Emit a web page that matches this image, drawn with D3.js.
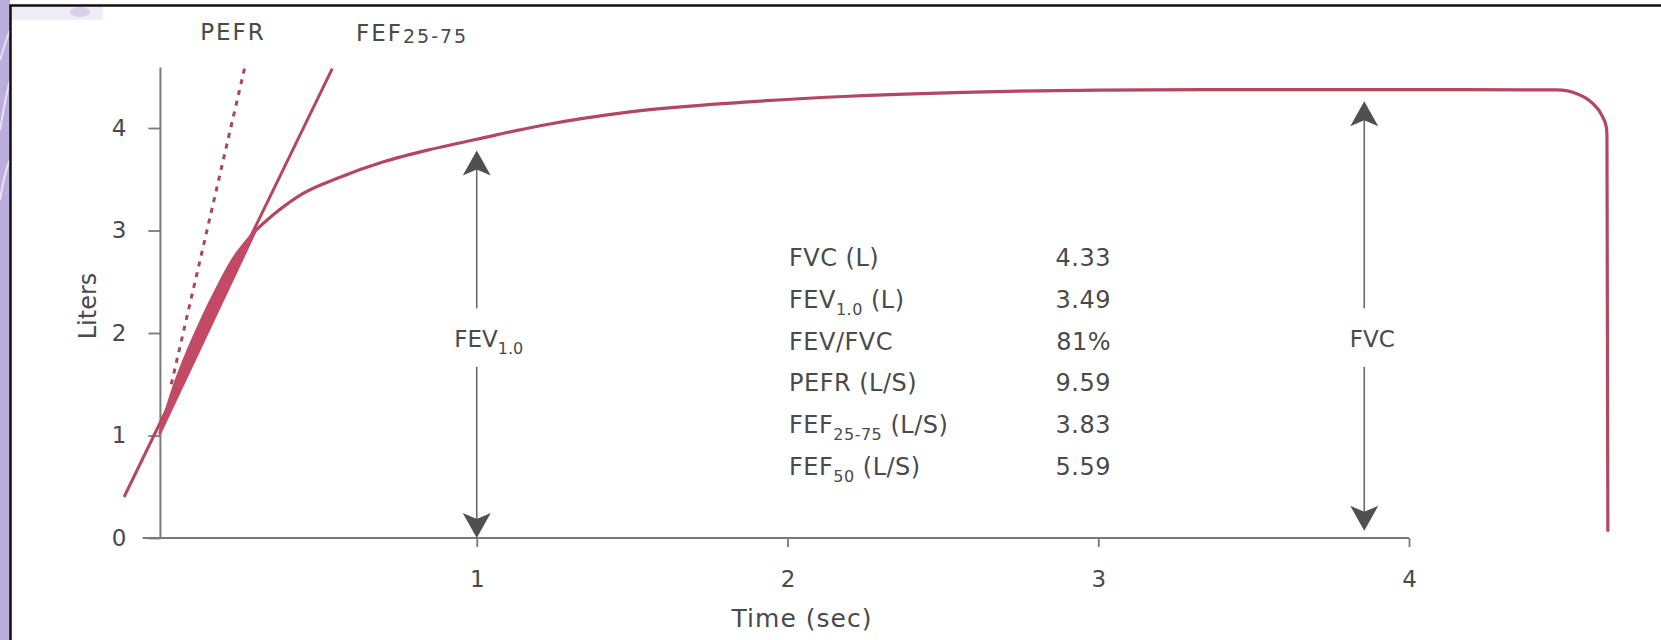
<!DOCTYPE html>
<html>
<head>
<meta charset="utf-8">
<script src="https://cdn.jsdelivr.net/npm/d3@7/dist/d3.min.js"></script>
<style>
    body { margin: 0; background: #fff; overflow: hidden; }
    text { font-family: "DejaVu Sans", sans-serif; fill: #4a4a4a; }
</style>
</head>
<body>
<div id="chart"></div>
<script>
/*
spirometry volume-time curve
 */

//volume-time curve (seconds, liters):
var curveTime = [-0.02, 0.028, 0.095, 0.175, 0.222, 0.288, 0.36, 0.44, 0.56, 0.70, 0.85, 1.0, 1.2,
    1.5, 1.85, 2.2, 2.6, 3.0, 3.5, 4.0, 4.476, 4.544, 4.590, 4.622, 4.635, 4.637, 4.64];
var curveLiters = [1.02, 1.50, 2.0, 2.5, 2.75, 3.0, 3.19, 3.36, 3.52, 3.67, 3.79, 3.89, 4.02,
    4.16, 4.25, 4.31, 4.35, 4.37, 4.375, 4.375, 4.371, 4.330, 4.242, 4.117, 4.008, 3.927, 0.06];
var kneeIndex = 5;

//tangent lines:
var pefrTime = [0.017, 0.253];
var pefrLiters = [1.50, 4.585];
var fefTime = [-0.135, 0.535];
var fefLiters = [0.40, 4.58];

//axes:
var xTicks = [1, 2, 3, 4];
var yTicks = [0, 1, 2, 3, 4];
var xAxisStart = -0.075;
var yAxisAt = -0.018;
var yAxisTop = 4.59;

//results table:
var statNames = ["FVC", "FEV", "FEV/FVC", "PEFR", "FEF", "FEF"];
var statSubs = ["", "1.0", "", "", "25-75", "50"];
var statUnits = [" (L)", " (L)", "", " (L/S)", " (L/S)", " (L/S)"];
var statValues = ["4.33", "3.49", "81%", "9.59", "3.83", "5.59"];

//double arrows:
var arrowNames = ["FEV", "FVC"];
var arrowSubs = ["1.0", ""];
var arrowTime = [1, 3.856];
var arrowTop = [3.78, 4.26];
var arrowBottom = [0, 0.07];
var arrowGap = [1.67, 2.24];

var width = 1661;
var height = 640;
var red = "#b4475f";

var svg = d3.select("#chart")
    .append("svg")
    .attr("width", width)
    .attr("height", height);

//slide decoration: purple strip and frame
svg.append("rect")
    .attr("x", 0).attr("y", 0)
    .attr("width", 10).attr("height", height)
    .attr("fill", "#bbaede");
svg.append("path")
    .attr("d", "M0,60 Q6,40 10,30 M0,130 Q6,95 10,80 M0,200 Q5,170 10,160")
    .attr("fill", "none")
    .attr("stroke", "#e8e2f4")
    .attr("stroke-width", 2);
svg.append("rect")
    .attr("x", 11).attr("y", 6)
    .attr("width", 92).attr("height", 14)
    .attr("fill", "#ebe6f4")
    .attr("opacity", 0.7);
svg.append("ellipse")
    .attr("cx", 80).attr("cy", 12)
    .attr("rx", 10).attr("ry", 5)
    .attr("fill", "#d2c8e8")
    .attr("opacity", 0.8);
svg.append("path")
    .attr("d", "M10.5," + height + " V5.5 H" + width)
    .attr("fill", "none")
    .attr("stroke", "#111")
    .attr("stroke-width", 2.5);

//scales
var x = d3.scaleLinear().domain([0, 4]).range([166, 1409]);
var y = d3.scaleLinear().domain([0, 4]).range([538, 128]);

//x axis
var xAxis = d3.axisBottom(x).tickValues(xTicks).tickFormat(d3.format("d"))
    .tickSize(9).tickPadding(24).tickSizeOuter(0);
var gx = svg.append("g")
    .attr("transform", "translate(0," + y(0) + ")")
    .call(xAxis);
gx.select(".domain").remove();
gx.append("line")
    .attr("x1", x(xAxisStart)).attr("x2", x(4))
    .attr("stroke", "#7a7a7a")
    .attr("stroke-width", 2);

//y axis
var yAxis = d3.axisLeft(y).tickValues(yTicks).tickFormat(d3.format("d"))
    .tickSize(12).tickPadding(22).tickSizeOuter(0);
var gy = svg.append("g")
    .attr("transform", "translate(" + x(yAxisAt) + ",0)")
    .call(yAxis);
gy.select(".domain").remove();
gy.append("line")
    .attr("y1", y(0)).attr("y2", y(yAxisTop))
    .attr("stroke", "#7a7a7a")
    .attr("stroke-width", 2);

svg.selectAll(".tick line")
    .attr("stroke", "#7a7a7a")
    .attr("stroke-width", 1.8);
svg.selectAll(".tick text")
    .attr("font-size", "23px")
    .attr("fill", "#4a4a4a")
    .style("font-family", "\"DejaVu Sans\", sans-serif");

//axis titles
svg.append("text")
    .attr("transform", "translate(96,306) rotate(-90)")
    .attr("text-anchor", "middle")
    .attr("font-size", "24px")
    .text("Liters");
svg.append("text")
    .attr("x", 802)
    .attr("y", 627)
    .attr("text-anchor", "middle")
    .attr("font-size", "25px")
    .attr("letter-spacing", "1px")
    .text("Time (sec)");

//line helpers
var pts = function (ts, vs) {
    return ts.map(function (t, i) { return {t: t, v: vs[i]}; });
};
var bandLine = d3.line()
    .x(function (d) { return x(d.t); })
    .y(function (d) { return y(d.v); })
    .curve(d3.curveCatmullRom.alpha(0.5));
var curveLine = d3.line()
    .x(function (d) { return x(d.t); })
    .y(function (d) { return y(d.v); })
    .curve(d3.curveMonotoneX);
var straight = d3.line()
    .x(function (d) { return x(d.t); })
    .y(function (d) { return y(d.v); });

var curvePoints = pts(curveTime, curveLiters);
var lower = curvePoints.slice(0, kneeIndex + 1);
var upper = curvePoints.slice(kneeIndex);

//PEFR tangent (dotted)
svg.append("path")
    .attr("d", straight(pts(pefrTime, pefrLiters)))
    .attr("fill", "none")
    .attr("stroke", "#a8465c")
    .attr("stroke-width", 3)
    .attr("stroke-dasharray", "5,6");

//FEF25-75 line
svg.append("path")
    .attr("d", straight(pts(fefTime, fefLiters)))
    .attr("fill", "none")
    .attr("stroke", red)
    .attr("stroke-width", 3);

//shaded band between curve and FEF line
svg.append("path")
    .attr("d", bandLine(lower) + "Z")
    .attr("fill", "#c24a66")
    .attr("stroke", "#c24a66")
    .attr("stroke-width", 3)
    .attr("stroke-linejoin", "round");

//main curve
svg.append("path")
    .attr("d", curveLine(upper))
    .attr("fill", "none")
    .attr("stroke", red)
    .attr("stroke-width", 3.2);

//double arrows with labels
var headUp = "M0,0 L-14,25 L0,19 L14,25 Z";
var headDown = "M0,0 L-14,-25 L0,-19 L14,-25 Z";
arrowNames.forEach(function (name, i) {
    var ax = x(arrowTime[i]);
    var g = svg.append("g");
    g.append("line")
        .attr("x1", ax).attr("x2", ax)
        .attr("y1", y(arrowTop[i]) + 15).attr("y2", y(arrowGap[1]))
        .attr("stroke", "#6a6a6a").attr("stroke-width", 1.6);
    g.append("line")
        .attr("x1", ax).attr("x2", ax)
        .attr("y1", y(arrowGap[0])).attr("y2", y(arrowBottom[i]) - 15)
        .attr("stroke", "#6a6a6a").attr("stroke-width", 1.6);
    g.append("path")
        .attr("transform", "translate(" + ax + "," + y(arrowTop[i]) + ")")
        .attr("d", headUp)
        .attr("fill", "#505050");
    g.append("path")
        .attr("transform", "translate(" + ax + "," + y(arrowBottom[i]) + ")")
        .attr("d", headDown)
        .attr("fill", "#505050");
    var t = g.append("text")
        .attr("x", ax + (arrowSubs[i] ? 12 : 8))
        .attr("y", y((arrowGap[0] + arrowGap[1]) / 2) + 9)
        .attr("text-anchor", "middle")
        .attr("font-size", "23px");
    t.append("tspan").text(name);
    if (arrowSubs[i]) {
        t.append("tspan").attr("dy", 7).attr("font-size", "16px").text(arrowSubs[i]);
    }
});

//top labels
svg.append("text")
    .attr("x", 233)
    .attr("y", 40)
    .attr("text-anchor", "middle")
    .attr("font-size", "23px")
    .attr("letter-spacing", "2px")
    .text("PEFR");
var fefLabel = svg.append("text")
    .attr("x", 356)
    .attr("y", 41)
    .attr("font-size", "23px")
    .attr("letter-spacing", "2px");
fefLabel.append("tspan").text("FEF");
fefLabel.append("tspan").attr("dy", 2).attr("font-size", "19px").text("25-75");

//results table
var rowY = d3.scaleLinear().domain([0, statNames.length - 1]).range([266, 475]);
statNames.forEach(function (name, i) {
    var t = svg.append("text")
        .attr("x", 789)
        .attr("y", rowY(i))
        .attr("font-size", "24px")
        .attr("letter-spacing", "0.5px");
    t.append("tspan").text(name);
    if (statSubs[i]) {
        t.append("tspan").attr("dy", 7).attr("font-size", "16px").text(statSubs[i]);
        t.append("tspan").attr("dy", -7).text(statUnits[i]);
    } else {
        t.append("tspan").text(statUnits[i]);
    }
    svg.append("text")
        .attr("x", 1111)
        .attr("y", rowY(i))
        .attr("text-anchor", "end")
        .attr("font-size", "24px")
        .attr("letter-spacing", "0.5px")
        .text(statValues[i]);
});
</script>
</body>
</html>
